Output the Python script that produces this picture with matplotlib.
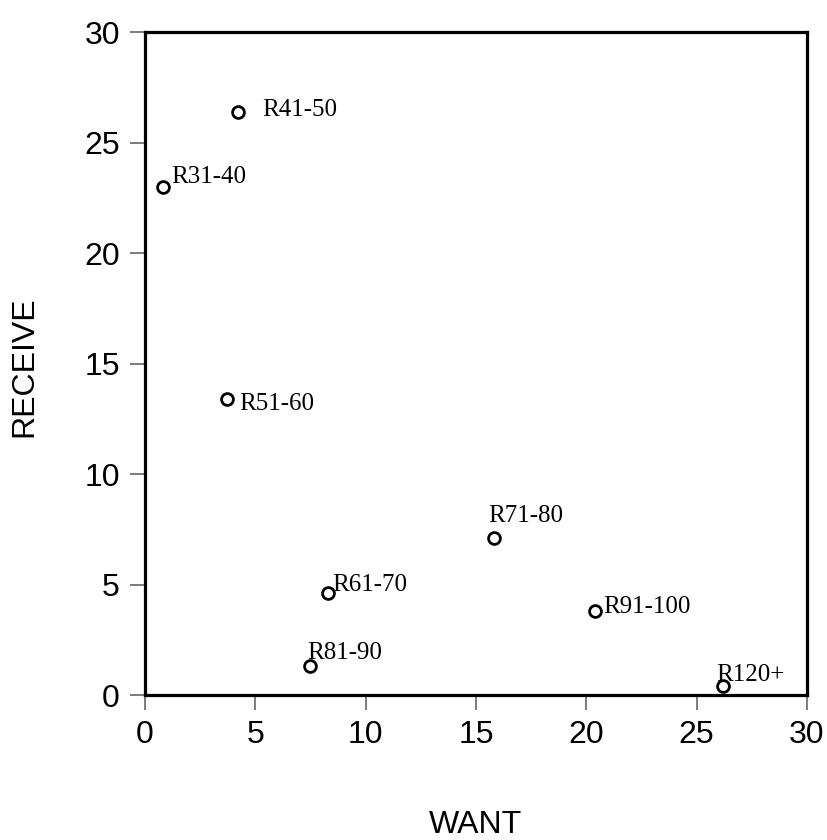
import matplotlib
matplotlib.use("Agg")
import matplotlib.pyplot as plt

# income bands: share who want vs. share who receive
labels = ["R31-40", "R41-50", "R51-60", "R61-70", "R71-80", "R81-90", "R91-100", "R120+"]
want = [0.8, 4.2, 3.7, 8.3, 15.8, 7.5, 20.4, 26.2]
receive = [23.0, 26.4, 13.4, 4.6, 7.1, 1.3, 3.8, 0.4]

# label nudges in points (dx, dy to baseline)
offsets = [(6.5, 2.7), (18, -3.2), (9.4, -7.9), (3, 1.4),
           (-3.6, 11.5), (-2, 5), (5.8, -1.4), (-5, 3.6)]

fig = plt.figure(figsize=(8.27, 8.40), dpi=100)
ax = fig.add_axes([0.1753, 0.1726, 0.8005, 0.7893])

ax.plot(want, receive, linestyle="none", marker="o", markersize=8.5,
        markerfacecolor="white", markeredgecolor="black", markeredgewidth=2.0)

for lab, x, y, (dx, dy) in zip(labels, want, receive, offsets):
    ax.annotate(lab, (x, y), xytext=(dx, dy), textcoords="offset points",
                ha="left", va="baseline", fontsize=18,
                family="Liberation Serif", color="black")

ax.set_xlim(0, 30)
ax.set_ylim(0, 30)
ax.set_xticks(range(0, 31, 5))
ax.set_yticks(range(0, 31, 5))

for sp in ax.spines.values():
    sp.set_linewidth(2.3)
    sp.set_color("black")

ax.tick_params(direction="out", length=11, width=1.2, color="#666666",
               labelsize=23, pad=7)
for t in ax.get_xticklabels() + ax.get_yticklabels():
    t.set_family("Liberation Sans")

fig.text(0.575, 0.018, "WANT", ha="center", va="center", fontsize=23,
         family="Liberation Sans")
fig.text(0.030, 0.563, "RECEIVE", ha="center", va="center", fontsize=23,
         family="Liberation Sans", rotation=90)

fig.savefig("out.png", dpi=100)
